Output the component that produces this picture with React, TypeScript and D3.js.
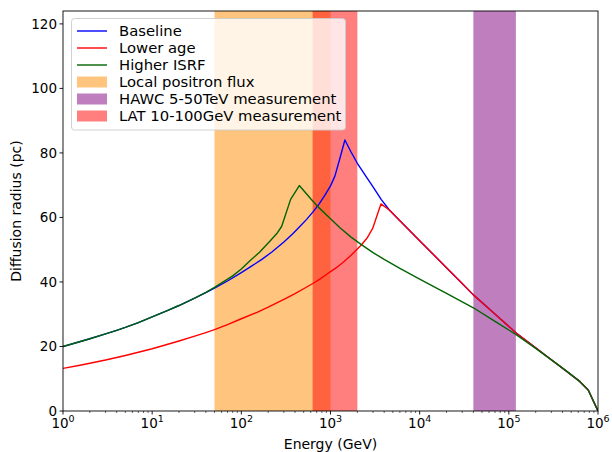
import React from "react";
import * as d3 from "d3";

// ---- Data ----
const baselineE = [1, 1.5, 2, 3, 4, 5, 7, 10, 15, 20, 30, 40, 50, 70, 100, 130, 170, 220, 300, 380, 450, 540, 640, 750, 870, 1000, 1120, 1260, 1450, 1700, 2000, 2500, 3000, 3700, 4570, 6000, 8000, 10000, 15000, 20000, 30000, 40000, 60000, 80000, 122000, 200000, 300000, 450000, 628000, 777000, 1000000];
const baselineR = [20.0, 21.4, 22.4, 23.9, 25.0, 25.9, 27.4, 29.2, 31.2, 32.7, 35.0, 36.7, 38.1, 40.3, 42.9, 44.9, 47.0, 49.3, 52.4, 55.0, 57.1, 59.4, 61.8, 64.3, 67.0, 69.8, 72.8, 77.8, 84.0, 80.3, 76.8, 72.7, 69.5, 65.6, 62.3, 59.0, 55.5, 52.8, 47.9, 44.4, 39.5, 36.0, 31.7, 28.6, 24.1, 19.6, 15.9, 12.2, 9.1, 6.5, 0];

const lowerAgeE = [1, 1.5, 2, 3, 4, 5, 7, 10, 15, 20, 30, 40, 50, 70, 100, 150, 200, 300, 400, 500, 640, 760, 900, 1000, 1200, 1400, 1700, 2000, 2240, 2600, 2970, 3680, 4570, 6000, 8000, 10000, 15000, 20000, 30000, 40000, 60000, 80000, 122000, 200000, 300000, 450000, 628000, 777000, 1000000];
const lowerAgeR = [13.2, 14.1, 14.8, 15.8, 16.6, 17.2, 18.2, 19.3, 20.7, 21.7, 23.2, 24.3, 25.2, 26.8, 28.6, 30.6, 32.2, 34.6, 36.4, 37.9, 39.6, 40.9, 42.3, 43.2, 44.7, 46.2, 48.3, 50.2, 51.6, 53.8, 56.6, 64.2, 62.3, 59.0, 55.5, 52.8, 47.9, 44.4, 39.5, 36.0, 31.7, 28.6, 24.1, 19.6, 15.9, 12.2, 9.1, 6.5, 0];

const higherIsrfE = [1, 1.5, 2, 3, 4, 5, 7, 10, 15, 20, 30, 40, 50, 66, 80, 100, 125, 160, 210, 250, 283, 357, 447, 600, 730, 1000, 1277, 1700, 2240, 3000, 4000, 6000, 10000, 20000, 40000, 70000, 122000, 200000, 345000, 450000, 628000, 777000, 1000000];
const higherIsrfR = [20.0, 21.4, 22.4, 23.9, 25.0, 25.9, 27.4, 29.2, 31.2, 32.7, 35.0, 36.8, 38.3, 40.4, 41.9, 44.0, 46.6, 49.2, 52.7, 55.0, 57.2, 65.6, 69.9, 65.8, 63.2, 59.6, 56.8, 53.9, 51.5, 49.1, 47.0, 44.2, 40.9, 36.5, 32.0, 27.8, 23.6, 19.4, 14.6, 12.2, 9.1, 6.5, 0];

const bandNames = ["Local positron flux", "HAWC 5-50TeV measurement", "LAT 10-100GeV measurement"];
const bandLo = [50, 40000, 630];
const bandHi = [1000, 120000, 2000];
const bandColors = ["#ff8c00", "#800080", "#ff0000"];

const lineNames = ["Baseline", "Lower age", "Higher ISRF"];
const lineColors = ["#0000ff", "#ff0000", "#006400"];

const yTicks = [0, 20, 40, 60, 80, 100, 120];
const xTickExps = [0, 1, 2, 3, 4, 5, 6];

export default function App() {
  const W = 612, H = 452;
  const left = 63, right = 598, top = 11, bottom = 411;
  const x = d3.scaleLog().domain([1, 1e6]).range([left, right]);
  const y = d3.scaleLinear().domain([0, 124]).range([bottom, top]);
  const font = "DejaVu Sans, sans-serif";

  const series = [
    { e: baselineE, r: baselineR },
    { e: lowerAgeE, r: lowerAgeR },
    { e: higherIsrfE, r: higherIsrfR },
  ];
  const line = d3.line<[number, number]>().x(d => x(d[0])).y(d => y(d[1]));

  const minor: number[] = [];
  for (let p = 0; p < 6; p++) for (let k = 2; k <= 9; k++) minor.push(k * Math.pow(10, p));

  const legX = 71.5, legY = 18.5, legW = 274, legH = 111.5;
  const rowH = 17;
  const legendRows = [
    ...lineNames.map((n, i) => ({ name: n, kind: "line", color: lineColors[i] })),
    ...bandNames.map((n, i) => ({ name: n, kind: "band", color: bandColors[i] })),
  ];

  return (
    <svg width={W} height={H} style={{ display: "block", position: "absolute", left: 0, top: 0 }} fontFamily={font}>
      <rect x={0} y={0} width={W} height={H} fill="#fff" />
      <defs>
        <clipPath id="plot">
          <rect x={left} y={top} width={right - left} height={bottom - top} />
        </clipPath>
      </defs>
      <g clipPath="url(#plot)">
        {bandLo.map((lo, i) => (
          <rect key={i} x={x(lo)} y={top} width={x(bandHi[i]) - x(lo)} height={bottom - top} fill={bandColors[i]} fillOpacity={0.5} />
        ))}
        {series.map((s, i) => (
          <path key={i} d={line(s.e.map((e, j) => [e, s.r[j]] as [number, number])) || ""} fill="none" stroke={lineColors[i]} strokeWidth={1.4} strokeLinejoin="round" />
        ))}
      </g>
      {/* spines */}
      <rect x={left} y={top} width={right - left} height={bottom - top} fill="none" stroke="#000" strokeWidth={0.9} />
      {/* y ticks */}
      {yTicks.map(t => (
        <g key={t}>
          <line x1={left - 3.5} x2={left} y1={y(t)} y2={y(t)} stroke="#000" strokeWidth={0.9} />
          <text x={left - 6} y={y(t)} dy="0.36em" textAnchor="end" fontSize={13.5} fill="#000">{t}</text>
        </g>
      ))}
      {/* x ticks */}
      {xTickExps.map(p => (
        <g key={p}>
          <line x1={x(Math.pow(10, p))} x2={x(Math.pow(10, p))} y1={bottom} y2={bottom + 3.5} stroke="#000" strokeWidth={0.9} />
          <text x={x(Math.pow(10, p))} y={428} textAnchor="middle" fontSize={13.5} fill="#000">
            10<tspan fontSize={9.5} dy={-6.5}>{p}</tspan>
          </text>
        </g>
      ))}
      {minor.map((m, i) => (
        <line key={i} x1={x(m)} x2={x(m)} y1={bottom} y2={bottom + 2} stroke="#000" strokeWidth={0.6} />
      ))}
      <text x={(left + right) / 2} y={449} textAnchor="middle" fontSize={14} fill="#000">Energy (GeV)</text>
      <text transform={`translate(21,${(top + bottom) / 2}) rotate(-90)`} textAnchor="middle" fontSize={14} fill="#000">Diffusion radius (pc)</text>
      {/* legend */}
      <rect x={legX} y={legY} width={legW} height={legH} rx={3} fill="#fff" fillOpacity={0.8} stroke="#cccccc" strokeWidth={0.9} />
      {legendRows.map((r, i) => {
        const cy = 31 + i * rowH;
        return (
          <g key={i}>
            {r.kind === "line" ? (
              <line x1={77} x2={107} y1={cy} y2={cy} stroke={r.color} strokeWidth={1.4} />
            ) : (
              <rect x={77} y={cy - 5.5} width={30} height={11} fill={r.color} fillOpacity={0.5} />
            )}
            <text x={119} y={cy} dy="0.36em" fontSize={14.8} fill="#000">{r.name}</text>
          </g>
        );
      })}
    </svg>
  );
}
